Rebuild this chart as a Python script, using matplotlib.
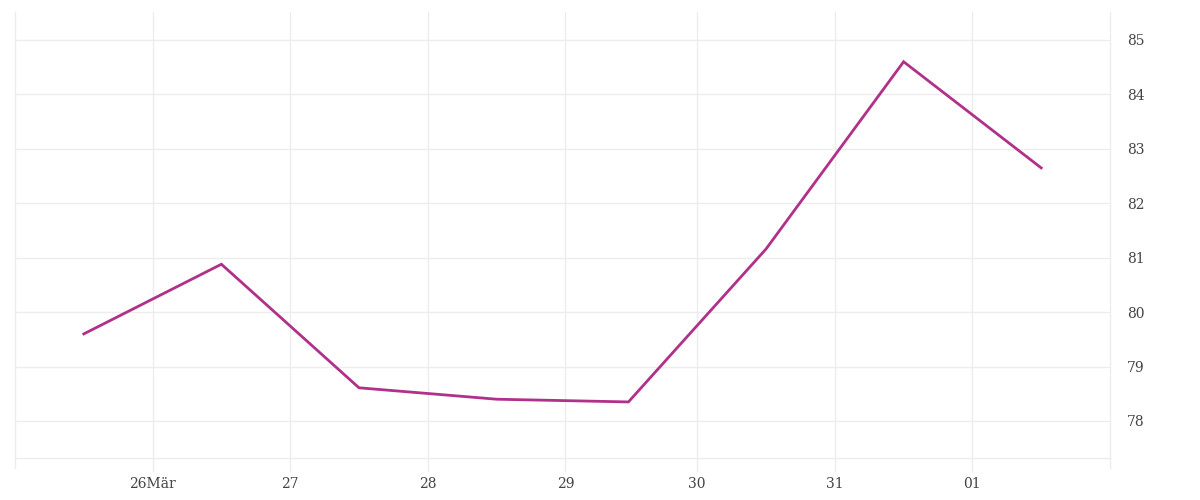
import matplotlib
matplotlib.use("Agg")
import matplotlib.pyplot as plt
import pandas as pd

# daily values, sampled at noon local time (Europe/Berlin, DST switch on 29 Mar)
days = ["2026-03-25", "2026-03-26", "2026-03-27", "2026-03-28",
        "2026-03-29", "2026-03-30", "2026-03-31", "2026-04-01"]
values = [79.60, 80.88, 78.61, 78.40, 78.35, 81.16, 84.60, 82.65]
tick_days = ["2026-03-26", "2026-03-27", "2026-03-28", "2026-03-29",
             "2026-03-30", "2026-03-31", "2026-04-01"]
tick_labels = ["26Mär", "27", "28", "29", "30", "31", "01"]
y_ticks = [78, 79, 80, 81, 82, 83, 84, 85]

TZ = "Europe/Berlin"
GRID = "#ededed"
TEXT = "#444444"

x = [pd.Timestamp(d + " 12:00", tz=TZ).to_pydatetime() for d in days]
xt = [pd.Timestamp(d, tz=TZ).to_pydatetime() for d in tick_days]
x0 = pd.Timestamp("2026-03-25", tz=TZ).to_pydatetime()
x1 = pd.Timestamp("2026-04-02", tz=TZ).to_pydatetime()

fig = plt.figure(figsize=(12, 5), dpi=100)
ax = fig.add_axes([15 / 1200, 42 / 500, 1095 / 1200, 446 / 500])

ax.plot(x, values, color="#b0308a", linewidth=2, solid_joinstyle="miter")

ax.set_xlim(x0, x1)
ax.set_ylim(77.32, 85.514)
ax.set_xticks(xt)
ax.set_xticklabels(tick_labels)
ax.set_yticks(y_ticks)
ax.yaxis.tick_right()

ax.grid(True, color=GRID, linewidth=1)
ax.set_axisbelow(True)
ax.spines["top"].set_visible(False)
for s in ["left", "right", "bottom"]:
    ax.spines[s].set_color(GRID)
    ax.spines[s].set_linewidth(1)

ax.tick_params(axis="x", length=10, width=1, color=GRID, pad=4,
               labelsize=10, labelcolor=TEXT)
ax.tick_params(axis="y", length=0, pad=12, labelsize=10, labelcolor=TEXT)
for lab in ax.get_xticklabels() + ax.get_yticklabels():
    lab.set_family("DejaVu Serif")

# small ticks below the two outer edges
for xe in [0, 1]:
    ax.plot([xe, xe], [0, -0.0225], transform=ax.transAxes, color=GRID,
            linewidth=1, clip_on=False)

fig.savefig("out.png", dpi=100)
